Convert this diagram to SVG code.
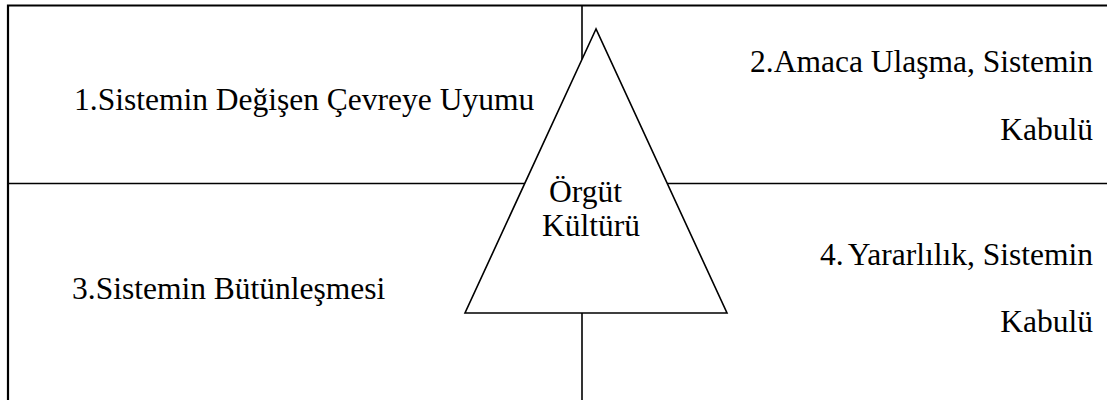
<svg xmlns="http://www.w3.org/2000/svg" width="1107" height="400" viewBox="0 0 1107 400">
  <style>
    .t { font-family: "Liberation Serif", "Times New Roman", serif; font-size: 31.5px; fill: #000; }
    .r { text-anchor: end; }
    .frame { stroke: #000; stroke-width: 2.2; fill: none; }
    .ln { stroke: #000; stroke-width: 1.6; fill: none; }
  </style>
  <rect width="1107" height="400" fill="#fff"/>
  <g id="connectors">
    <path class="frame" d="M8 400 V5.5 H1107"/>
    <line class="ln" x1="8" y1="183.5" x2="1107" y2="183.5"/>
    <line class="ln" x1="582" y1="5.5" x2="582" y2="400"/>
  </g>
  <g id="node-center">
    <polygon points="596,29 465,313 727,313" fill="#fff" stroke="#000" stroke-width="1.6"/>
    <text class="t" x="549" y="202">Örgüt</text>
    <text class="t" x="542" y="236">Kültürü</text>
  </g>
  <g id="node-1">
    <text class="t" x="74" y="110">1.Sistemin Değişen Çevreye Uyumu</text>
  </g>
  <g id="node-2">
    <text class="t r" x="1093" y="72">2.Amaca Ulaşma, Sistemin</text>
    <text class="t r" x="1093" y="140">Kabulü</text>
  </g>
  <g id="node-3">
    <text class="t" x="72" y="299">3.Sistemin Bütünleşmesi</text>
  </g>
  <g id="node-4">
    <text class="t r" x="1093" y="265">4.<tspan dx="4">Yararlılık, Sistemin</tspan></text>
    <text class="t r" x="1093" y="332">Kabulü</text>
  </g>
</svg>
